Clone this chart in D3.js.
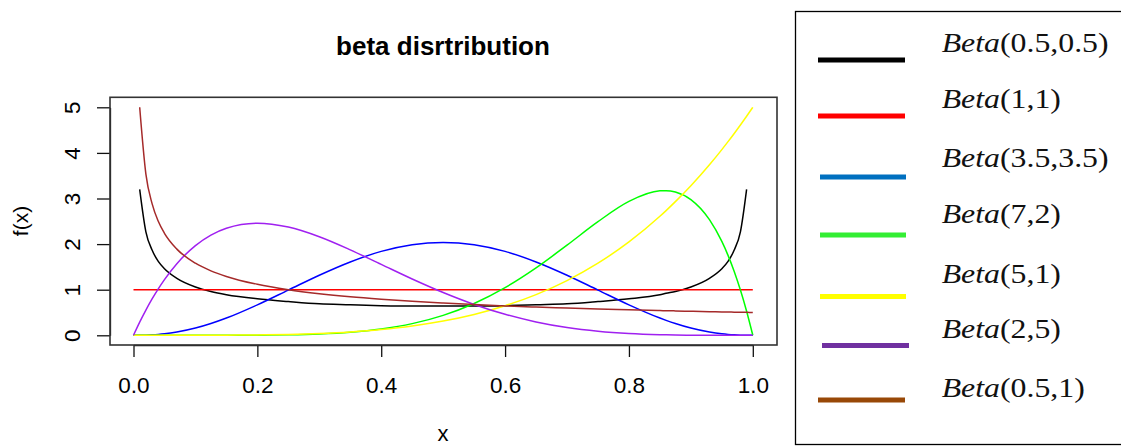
<!DOCTYPE html>
<html>
<head>
<meta charset="utf-8">
<script src="https://cdn.jsdelivr.net/npm/d3@7"></script>
<style>
  body { margin: 0; background: #fff; }
  svg { display: block; }
</style>
</head>
<body>
<div id="chart"></div>
<script>
/* DATA */
const xGrid = [0, 0.01, 0.02, 0.03, 0.04, 0.05, 0.07, 0.1, 0.125, 0.15, 0.2, 0.25, 0.3, 0.35, 0.4, 0.45, 0.5,
  0.55, 0.6, 0.65, 0.7, 0.75, 0.8, 0.85, 0.86, 0.875, 0.9, 0.93, 0.95, 0.96, 0.97, 0.98, 0.99, 1];

const beta05_05 = [null, 3.2, 2.27, 1.87, 1.62, 1.46, 1.25, 1.06, 0.96, 0.89, 0.80, 0.74, 0.69, 0.67, 0.65, 0.64, 0.64,
  0.64, 0.65, 0.67, 0.69, 0.74, 0.80, 0.89, 0.92, 0.96, 1.06, 1.25, 1.46, 1.62, 1.87, 2.27, 3.2, null];
const beta1_1 = [1, 1, 1, 1, 1, 1, 1, 1, 1, 1, 1, 1, 1, 1, 1, 1, 1,
  1, 1, 1, 1, 1, 1, 1, 1, 1, 1, 1, 1, 1, 1, 1, 1, 1];
const beta35_35 = [0, 0.0006, 0.0035, 0.0094, 0.0188, 0.0321, 0.0705, 0.158, 0.258, 0.378, 0.668, 0.992, 1.318, 1.609, 1.840, 1.987, 2.037,
  1.987, 1.840, 1.609, 1.318, 0.992, 0.668, 0.378, 0.328, 0.258, 0.158, 0.0705, 0.0321, 0.0188, 0.0094, 0.0035, 0.0006, 0];
const beta7_2 = [0, 0, 0, 0, 0, 0, 0, 0.0001, 0.0002, 0.0005, 0.0029, 0.0103, 0.0286, 0.0669, 0.1376, 0.2558, 0.4375,
  0.6976, 1.0451, 1.4782, 1.9765, 2.4917, 2.9360, 3.1681, 3.1718, 3.1416, 2.9761, 2.5362, 2.0583, 1.7534, 1.3994, 0.9921, 0.5272, 0];
const beta5_1 = [0, 0, 0, 0, 0, 0, 0.0001, 0.0005, 0.0012, 0.0025, 0.008, 0.0195, 0.0405, 0.075, 0.128, 0.205, 0.3125,
  0.4575, 0.648, 0.8925, 1.2005, 1.582, 2.048, 2.61, 2.735, 2.9309, 3.2805, 3.7405, 4.0725, 4.2467, 4.4264, 4.6118, 4.803, 5];
const beta2_5 = [0, 0.288, 0.553, 0.797, 1.019, 1.222, 1.571, 1.968, 2.198, 2.349, 2.458, 2.373, 2.161, 1.874, 1.555, 1.235, 0.938,
  0.677, 0.461, 0.293, 0.170, 0.088, 0.038, 0.013, 0.010, 0.006, 0.003, 0.0007, 0.0002, 0.0001, 0, 0, 0, 0];
const beta05_1 = [null, 5, 3.536, 2.887, 2.5, 2.236, 1.890, 1.581, 1.414, 1.291, 1.118, 1, 0.913, 0.845, 0.791, 0.745, 0.707,
  0.674, 0.645, 0.620, 0.598, 0.577, 0.559, 0.542, 0.539, 0.535, 0.527, 0.518, 0.513, 0.510, 0.508, 0.505, 0.503, 0.5];

const seriesValues = [beta05_05, beta1_1, beta35_35, beta7_2, beta5_1, beta2_5, beta05_1];
const legendParams = ["0.5,0.5", "1,1", "3.5,3.5", "7,2", "5,1", "2,5", "0.5,1"];

const xTicks = [0, 0.2, 0.4, 0.6, 0.8, 1.0];
const yTicks = [0, 1, 2, 3, 4, 5];

/* STYLE / LAYOUT */
const width = 1121, height = 446;
const lineColors = ["#000000", "#ff0000", "#0000ff", "#00ff00", "#ffff00", "#a020f0", "#a52a2a"];
const legendColors = ["#000000", "#ff0000", "#0070c0", "#33ee33", "#ffff00", "#7030a0", "#984807"];
// the legend is a pasted picture, its rows are not evenly spaced
const legendLineY = [60, 116, 177, 235, 296.5, 345.5, 400];
const legendLineX = [[818, 905], [818, 905], [820, 906], [820, 906], [820, 906], [822, 909], [818, 905]];
const legendTextY = [51.7, 108, 166.7, 223, 282.7, 338, 396.7];

const box = { left: 110, right: 777, top: 97.3, bottom: 345 };
const sansFont = "Liberation Sans, Arial, sans-serif";

const svg = d3.select("#chart")
  .append("svg")
  .attr("width", width)
  .attr("height", height);

// + SCALES
const xScale = d3.scaleLinear()
  .domain([0, 1])
  .range([133.5, 752.8]);
const yScale = d3.scaleLinear()
  .domain([0, 5])
  .range([335.3, 107.3]);

// + TITLE
svg.append("text")
  .attr("x", 443)
  .attr("y", 55)
  .attr("text-anchor", "middle")
  .attr("font-family", sansFont)
  .attr("font-weight", "bold")
  .attr("font-size", 26)
  .text("beta disrtribution");

// + AXES
const xAxisGroup = svg.append("g")
  .attr("transform", `translate(0, ${box.bottom})`)
  .call(d3.axisBottom(xScale)
    .tickValues(xTicks)
    .tickFormat(d3.format(".1f"))
    .tickSize(12)
    .tickSizeOuter(0));

xAxisGroup.selectAll(".tick text")
  .attr("y", 47.5)
  .attr("dy", null)
  .attr("fill", "#000")
  .attr("font-family", sansFont)
  .attr("font-size", 22.5);

const yAxisGroup = svg.append("g")
  .attr("transform", `translate(${box.left}, 0)`)
  .call(d3.axisLeft(yScale)
    .tickValues(yTicks)
    .tickFormat(d3.format("d"))
    .tickSize(13)
    .tickSizeOuter(0));

yAxisGroup.selectAll(".tick text")
  .attr("transform", "rotate(-90)")
  .attr("x", 0)
  .attr("y", -30)
  .attr("dy", null)
  .attr("text-anchor", "middle")
  .attr("fill", "#000")
  .attr("font-family", sansFont)
  .attr("font-size", 22.5);

svg.selectAll(".domain").attr("stroke", "#222").attr("stroke-width", 1.3);
svg.selectAll(".tick line").attr("stroke", "#111").attr("stroke-width", 1.3);

// axis titles
svg.append("text")
  .attr("x", 443)
  .attr("y", 441)
  .attr("text-anchor", "middle")
  .attr("font-family", sansFont)
  .attr("font-size", 22)
  .text("x");

svg.append("text")
  .attr("transform", `translate(27.5, 221) rotate(-90)`)
  .attr("text-anchor", "middle")
  .attr("font-family", sansFont)
  .attr("font-size", 21)
  .text("f(x)");

// + PLOT BOX
svg.append("rect")
  .attr("x", box.left)
  .attr("y", box.top)
  .attr("width", box.right - box.left)
  .attr("height", box.bottom - box.top)
  .attr("fill", "none")
  .attr("stroke", "#333")
  .attr("stroke-width", 1.6);

// + CURVES
const lineGen = d3.line()
  .defined(d => d.y != null)
  .x(d => xScale(d.x))
  .y(d => yScale(d.y))
  .curve(d3.curveMonotoneX);

const curves = seriesValues.map(vals => vals.map((v, i) => ({ x: xGrid[i], y: v })));

svg.selectAll(".curve")
  .data(curves)
  .join("path")
  .attr("class", "curve")
  .attr("fill", "none")
  .attr("stroke", (d, i) => lineColors[i])
  .attr("stroke-width", 1.5)
  .attr("d", d => lineGen(d));

// + LEGEND
svg.append("rect")
  .attr("x", 795.5)
  .attr("y", 11.5)
  .attr("width", 340)
  .attr("height", 433)
  .attr("fill", "none")
  .attr("stroke", "#000")
  .attr("stroke-width", 1.3);

const legend = svg.selectAll(".legend-row")
  .data(legendParams)
  .join("g")
  .attr("class", "legend-row");

legend.append("line")
  .attr("x1", (d, i) => legendLineX[i][0])
  .attr("x2", (d, i) => legendLineX[i][1])
  .attr("y1", (d, i) => legendLineY[i])
  .attr("y2", (d, i) => legendLineY[i])
  .attr("stroke", (d, i) => legendColors[i])
  .attr("stroke-width", 5);

const legendText = legend.append("text")
  .attr("transform", (d, i) => `translate(941.7, ${legendTextY[i]}) scale(1.2, 1)`)
  .attr("font-family", "Liberation Serif, Times New Roman, serif")
  .attr("font-size", 26.5)
  .attr("fill", "#111");

legendText.append("tspan")
  .attr("font-style", "italic")
  .text("Beta");
legendText.append("tspan")
  .text(d => `(${d})`);
</script>
</body>
</html>
